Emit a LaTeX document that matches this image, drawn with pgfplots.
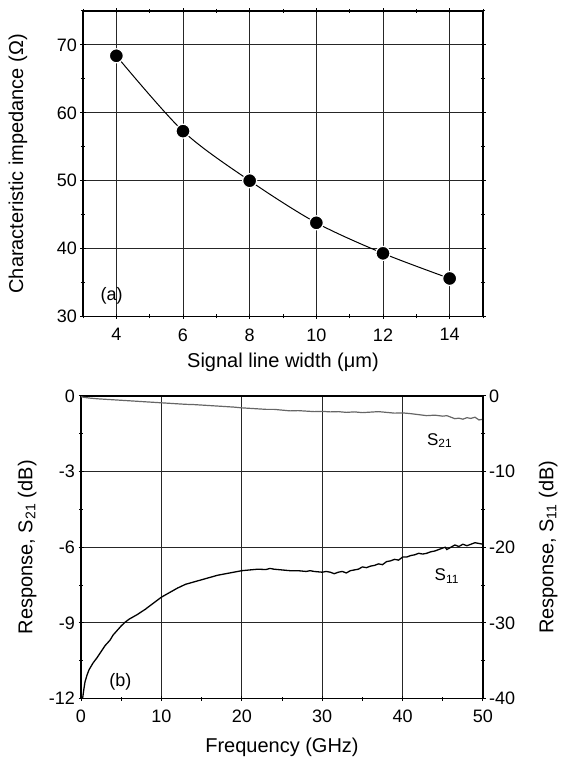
\documentclass[border=0pt]{standalone}
\usepackage{fontspec}
\setmainfont{Liberation Sans}
\usepackage{pgfplots}
\pgfplotsset{compat=1.18}
\definecolor{sgray}{HTML}{666666}
\begin{document}
\begin{tikzpicture}
\useasboundingbox (0,0) rectangle (562pt,757pt);
\pgfplotsset{
 every axis/.append style={
  scale only axis,
  /pgf/number format/assume math mode=true,
  tick label style={font=\fontsize{18}{20}\selectfont},
  label style={font=\fontsize{20}{23}\selectfont},
  major tick length=5pt, minor tick length=4pt,
  tick align=center,
  every tick/.style={black,line width=1pt},
  major grid style={black!85,line width=1pt},
 }
}
% ---------- (a) ----------
\begin{axis}[at={(83pt,440.5pt)}, anchor=south west, width=400pt, height=305.5pt,
 xmin=3,xmax=15,ymin=30,ymax=75,
 xtick={4,6,8,10,12,14}, minor xtick={3,5,7,9,11,13,15},
 ytick={30,40,50,60,70}, minor ytick={35,45,55,65,75},
 grid=major,
 axis line style={line width=1.3pt},
 xticklabel style={yshift=-6pt},
 xlabel={Signal line width (μm)}, ylabel={Characteristic impedance (Ω)},
 xlabel style={at={(axis description cs:0.5,-0.149)},anchor=center},
 ylabel style={at={(axis description cs:-0.1625,0.5)},anchor=center},
]
\addplot[black, line width=1pt, smooth, mark=*, mark size=7pt,
  mark options={fill=black, draw=white, line width=1.2pt}] coordinates {
 (4,68.4) (6,57.3) (8,50.0) (10,43.8) (12,39.3) (14,35.6)
};
\node[font=\fontsize{18}{20}\selectfont] at (axis cs:3.86,33.0) {(a)};
\end{axis}
% ---------- (b) left axis: S21 ----------
\begin{axis}[at={(81pt,58.5pt)}, anchor=south west, width=402pt, height=302.5pt,
 xmin=0,xmax=50,ymin=-12,ymax=0,
 xtick={0,10,20,30,40,50}, minor xtick={5,15,25,35,45},
 ytick={-12,-9,-6,-3,0}, yticklabels={-12,-9,-6,-3,0},
 minor ytick={-10.5,-7.5,-4.5,-1.5},
 ytick pos=left, xtick pos=bottom,
 grid=major,
 axis line style={line width=1.7pt},
 xticklabel style={yshift=-5pt},
 xlabel={Frequency (GHz)}, ylabel={Response, S\textsubscript{21} (dB)},
 xlabel style={at={(axis description cs:0.5,-0.160)},anchor=center},
 ylabel style={at={(axis description cs:-0.134,0.5)},anchor=center},
]
\addplot[sgray, line width=1.2pt] coordinates {
 (0,-0.03) (0.5,-0.06) (1,-0.08) (2,-0.11) (3,-0.13) (4,-0.15) (5,-0.17)
 (6,-0.19) (7,-0.21) (8,-0.23) (9,-0.25) (10,-0.27) (11,-0.29) (12,-0.31)
 (13,-0.33) (14,-0.34) (15,-0.36) (16,-0.38) (17,-0.40) (18,-0.42) (19,-0.44)
 (20,-0.47) (21,-0.49) (22,-0.51) (23,-0.53) (24,-0.53) (25,-0.56) (26,-0.59)
 (27,-0.58) (28,-0.60) (29,-0.62) (30,-0.61) (31,-0.63) (32,-0.62) (33,-0.65)
 (34,-0.63) (35,-0.66) (36,-0.64) (37,-0.62) (38,-0.65) (39,-0.68) (40,-0.67)
 (41,-0.70) (42,-0.74) (43,-0.78) (44,-0.76) (45,-0.80) (45.5,-0.78) (46,-0.84)
 (46.5,-0.90) (47,-0.88) (47.5,-0.92) (48,-0.86) (48.5,-0.89) (49,-0.84)
 (49.5,-0.95) (50,-0.92)
};
\node[font=\fontsize{17}{20}\selectfont] at (axis cs:44.6,-1.77) {S\textsubscript{21}};
\node[font=\fontsize{17}{20}\selectfont] at (axis cs:45.5,-7.15) {S\textsubscript{11}};
\node[font=\fontsize{18}{20}\selectfont] at (axis cs:4.9,-11.34) {(b)};
\end{axis}
% ---------- (b) right axis: S11 ----------
\begin{axis}[at={(81pt,58.5pt)}, anchor=south west, width=402pt, height=302.5pt,
 xmin=0,xmax=50,ymin=-40,ymax=0,
 axis y line*=right, axis x line=none,
 ytick={-40,-30,-20,-10,0}, yticklabels={-40,-30,-20,-10,0},
 minor ytick={-35,-25,-15,-5},
 axis line style={line width=1.7pt},
 ylabel={Response, S\textsubscript{11} (dB)},
 ylabel style={at={(axis description cs:1.162,0.5)},anchor=center,rotate=0},
]
\addplot[black, line width=1.3pt] coordinates {
 (0.2,-40) (0.35,-38.8) (0.5,-37.8) (0.75,-36.9) (1,-36.2) (1.5,-35.3) (2,-34.6)
 (2.5,-33.8) (3,-33.0) (3.6,-32.3) (4,-31.6) (4.5,-31.0) (5,-30.4) (5.5,-29.9)
 (6,-29.5) (7,-28.9) (8,-28.2) (9,-27.4) (10,-26.6) (11,-26.0) (12,-25.4)
 (13,-24.9) (14,-24.6) (15,-24.3) (16,-24.0) (17,-23.7) (18,-23.5) (19,-23.3)
 (20,-23.1) (21,-23.0) (22,-22.9) (23,-22.95) (23.5,-22.8) (24,-22.9) (25,-23.0)
 (26,-23.1) (27,-23.1) (28,-23.2) (28.5,-23.1) (29,-23.2) (30,-23.3) (30.5,-23.2)
 (31,-23.3) (31.5,-23.5) (32,-23.3) (32.5,-23.2) (33,-23.4) (33.5,-23.1) (34,-23.0)
 (34.5,-22.9) (35,-22.6) (35.5,-22.7) (36,-22.5) (36.5,-22.4) (37,-22.2) (37.5,-22.3)
 (38,-21.9) (38.5,-21.8) (39,-21.6) (39.5,-21.7) (40,-21.3) (40.5,-21.3) (41,-21.1)
 (41.5,-21.0) (42,-20.8) (42.5,-20.9) (43,-20.8) (43.5,-20.6) (44,-20.5) (44.5,-20.3)
 (45,-20.1) (45.3,-20.0) (45.5,-20.3) (46,-20.0) (46.5,-19.7) (47,-19.9) (47.5,-19.6)
 (48,-19.8) (48.5,-19.6) (49,-19.4) (49.5,-19.5) (50,-19.6)
};
\end{axis}
\end{tikzpicture}
\end{document}
